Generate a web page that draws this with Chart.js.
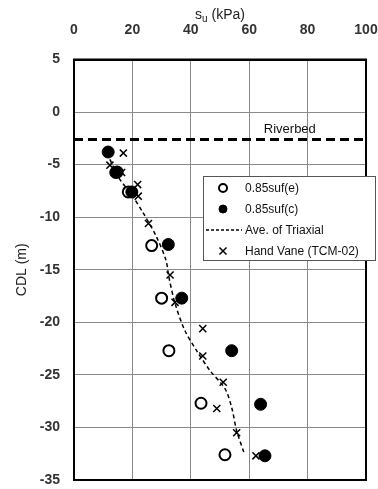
<!DOCTYPE html>
<html>
<head>
<meta charset="utf-8">
<script src="https://cdn.jsdelivr.net/npm/chart.js@4.4.1/dist/chart.umd.min.js"></script>
<style>
  html, body { margin: 0; padding: 0; background: #fff; overflow: hidden; }
  canvas { display: block; }
</style>
</head>
<body>
<canvas id="su-chart" width="378" height="489"></canvas>
<script>
// 0.85 suf(e) - open circles
const sufE = [14.8, 18.6, 26.6, 30.0, 32.5, 43.5, 51.7];
const cdlE = [-5.7, -7.6, -12.7, -17.7, -22.7, -27.7, -32.6];

// 0.85 suf(c) - filled circles
const sufC = [11.7, 14.3, 19.8, 32.3, 36.9, 54.0, 63.9, 65.4];
const cdlC = [-3.8, -5.75, -7.6, -12.6, -17.7, -22.7, -27.8, -32.7];

// Ave. of Triaxial - dashed line
const triSu = [12.3, 15.2, 19.8, 23.7, 28.3, 31.5, 32.5, 34.6, 38.0, 42.0, 46.6, 51.7, 54.0, 55.7, 58.2];
const triCdl = [-4.5, -6.2, -7.9, -9.6, -11.9, -14.1, -15.7, -18.2, -20.8, -22.7, -24.6, -26.3, -28.1, -30.3, -32.4];

// Hand Vane (TCM-02) - crosses
const vaneSu = [16.9, 12.3, 16.3, 21.8, 22.0, 25.5, 32.9, 34.6, 44.1, 44.1, 51.1, 48.9, 55.7, 62.3];
const vaneCdl = [-3.9, -5.05, -5.75, -6.9, -8.0, -10.6, -15.5, -18.1, -20.6, -23.2, -25.7, -28.2, -30.5, -32.7];

const riverbedCdl = -2.6;
const riverbedLabel = 'Riverbed';

const xTicks = [0, 20, 40, 60, 80, 100];
const yTicks = [5, 0, -5, -10, -15, -20, -25, -30, -35];

function pts(xs, ys) {
    return xs.map((x, i) => ({ x, y: ys[i] }));
}

const FONT = "'Liberation Sans', Arial, sans-serif";

// draws the frame, axis titles, the riverbed label and the boxed legend
const decor = {
    id: 'decor',
    afterDraw(chart) {
        const ctx = chart.ctx;
        const x = chart.scales.x, y = chart.scales.y;
        const area = chart.chartArea;
        ctx.save();

        // frame round the plot
        ctx.strokeStyle = '#000';
        ctx.lineWidth = 2;
        ctx.strokeRect(area.left, area.top, area.right - area.left, area.bottom - area.top);

        ctx.fillStyle = '#222';

        // x title: s_u (kPa)
        ctx.font = '14px ' + FONT;
        ctx.textBaseline = 'alphabetic';
        const cx = (area.left + area.right) / 2;
        const w1 = ctx.measureText('s').width;
        ctx.font = '10px ' + FONT;
        const w2 = ctx.measureText('u').width;
        ctx.font = '14px ' + FONT;
        const w3 = ctx.measureText(' (kPa)').width;
        let sx = cx - (w1 + w2 + w3) / 2;
        ctx.textAlign = 'left';
        ctx.fillText('s', sx, 19);
        ctx.font = '10px ' + FONT;
        ctx.fillText('u', sx + w1, 22);
        ctx.font = '14px ' + FONT;
        ctx.fillText(' (kPa)', sx + w1 + w2, 19);

        // y title
        ctx.save();
        ctx.translate(22, (area.top + area.bottom) / 2);
        ctx.rotate(-Math.PI / 2);
        ctx.textAlign = 'center';
        ctx.textBaseline = 'middle';
        ctx.font = '14px ' + FONT;
        ctx.fillText('CDL (m)', 0, 0);
        ctx.restore();

        // riverbed label
        ctx.font = '13px ' + FONT;
        ctx.fillStyle = '#111';
        ctx.textAlign = 'left';
        ctx.textBaseline = 'alphabetic';
        ctx.fillText(riverbedLabel, x.getPixelForValue(65), y.getPixelForValue(riverbedCdl) - 6);

        // legend box
        const bx = 203, by = 176, bw = 172, bh = 84;
        ctx.fillStyle = '#fff';
        ctx.fillRect(bx, by, bw, bh);
        ctx.strokeStyle = '#555';
        ctx.lineWidth = 1;
        ctx.strokeRect(bx + 0.5, by + 0.5, bw, bh);

        ctx.font = '12px ' + FONT;
        ctx.textBaseline = 'middle';
        [0, 1, 2, 3].forEach((di, i) => {
            const ds = chart.data.datasets[di];
            const ry = by + 12 + i * 21;
            const mx = 223;
            ctx.strokeStyle = '#000';
            if (ds.showLine) {
                ctx.setLineDash([3, 2]);
                ctx.lineWidth = 1.5;
                ctx.beginPath();
                ctx.moveTo(206, ry);
                ctx.lineTo(242, ry);
                ctx.stroke();
                ctx.setLineDash([]);
            } else {
                ctx.fillStyle = ds.backgroundColor;
                ctx.lineWidth = ds.borderWidth;
                Chart.helpers.drawPoint(ctx, {
                    pointStyle: ds.pointStyle,
                    radius: ds.legendRadius,
                    borderWidth: ds.borderWidth,
                    rotation: 0
                }, mx, ry);
            }
            ctx.fillStyle = '#111';
            ctx.fillText(ds.label, 245, ry + 1);
        });
        ctx.restore();
    }
};

function noOverflow(axis) {
    axis.paddingLeft = 0;
    axis.paddingRight = 0;
    axis.paddingTop = 0;
    axis.paddingBottom = 0;
}

new Chart(document.getElementById('su-chart'), {
    type: 'scatter',
    data: {
        datasets: [
            {
                label: '0.85suf(e)',
                data: pts(sufE, cdlE),
                pointStyle: 'circle',
                pointRadius: 5.5,
                legendRadius: 4,
                borderWidth: 2,
                borderColor: '#000',
                backgroundColor: 'rgba(0,0,0,0)',
                order: 3
            },
            {
                label: '0.85suf(c)',
                data: pts(sufC, cdlC),
                pointStyle: 'circle',
                pointRadius: 6,
                legendRadius: 4,
                borderWidth: 1,
                borderColor: '#000',
                backgroundColor: '#000',
                order: 2
            },
            {
                label: 'Ave. of Triaxial',
                data: pts(triSu, triCdl),
                showLine: true,
                borderColor: '#000',
                borderWidth: 1.5,
                borderDash: [4, 3],
                pointRadius: 0,
                tension: 0.3,
                backgroundColor: '#000',
                order: 1
            },
            {
                label: 'Hand Vane (TCM-02)',
                data: pts(vaneSu, vaneCdl),
                pointStyle: 'crossRot',
                pointRadius: 5,
                legendRadius: 5,
                borderWidth: 1.5,
                borderColor: '#000',
                backgroundColor: '#000',
                order: 0
            },
            {
                label: riverbedLabel,
                data: [{ x: 0, y: riverbedCdl }, { x: 100, y: riverbedCdl }],
                showLine: true,
                borderColor: '#000',
                borderWidth: 3,
                borderDash: [9, 5],
                pointRadius: 0,
                order: 4
            }
        ]
    },
    options: {
        responsive: false,
        animation: false,
        layout: { padding: { left: 0, right: 12, top: 0, bottom: 9 } },
        plugins: {
            legend: { display: false },
            tooltip: { enabled: false }
        },
        scales: {
            x: {
                type: 'linear',
                position: 'top',
                min: 0,
                max: 100,
                afterBuildTicks(axis) { axis.ticks = xTicks.map(v => ({ value: v })); },
                afterFit(axis) { axis.height = 59.5; noOverflow(axis); },
                ticks: { color: '#333', font: { family: FONT, size: 14, weight: 'bold' }, padding: 21 },
                grid: { color: '#8a8a8a', lineWidth: 1, drawTicks: false },
                border: { color: '#000', width: 2 }
            },
            y: {
                type: 'linear',
                min: -35,
                max: 5,
                afterBuildTicks(axis) { axis.ticks = yTicks.map(v => ({ value: v })); },
                afterFit(axis) { axis.width = 74; noOverflow(axis); },
                ticks: { color: '#333', font: { family: FONT, size: 14, weight: 'bold' }, padding: 14 },
                grid: { color: '#8a8a8a', lineWidth: 1, drawTicks: false },
                border: { color: '#000', width: 2 }
            }
        }
    },
    plugins: [decor]
});
</script>
</body>
</html>
